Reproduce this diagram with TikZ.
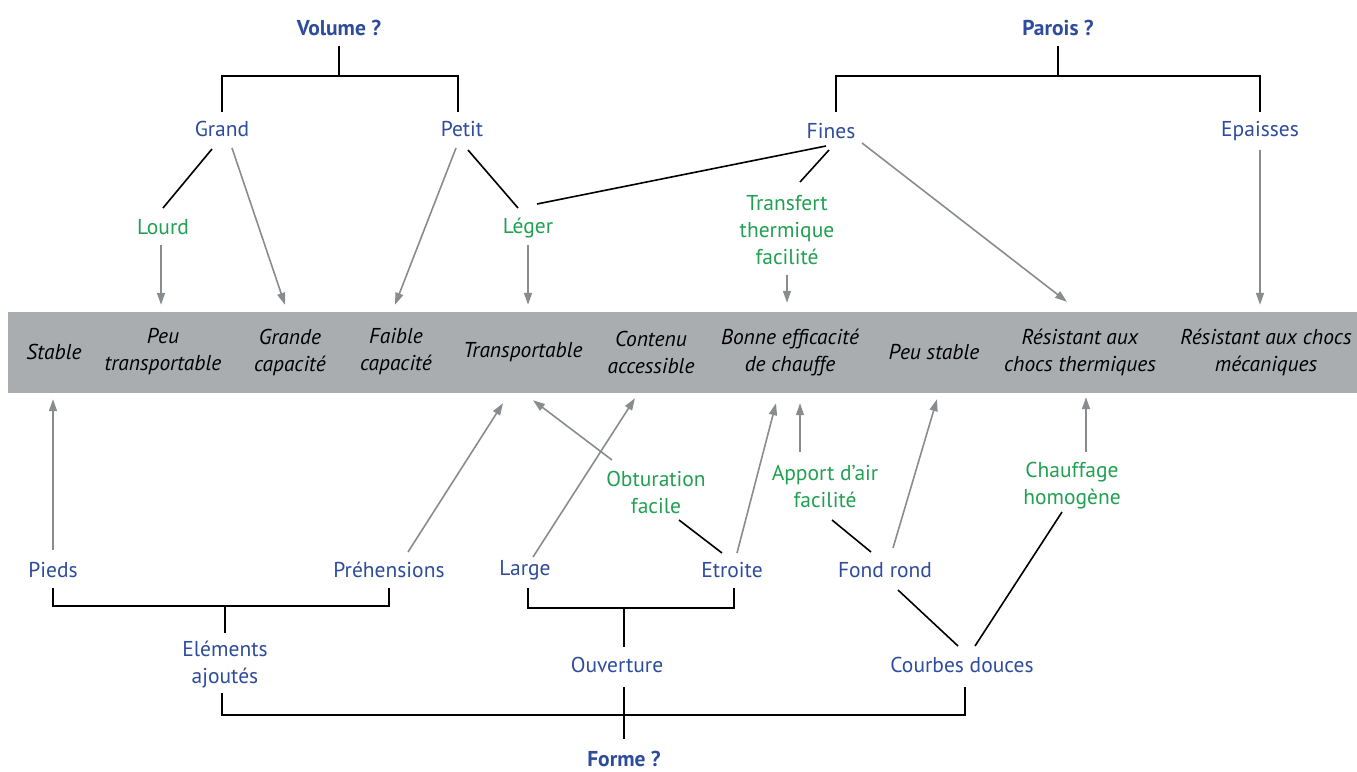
\documentclass[tikz,border=0pt]{standalone}
\usepackage{fontspec}
\setmainfont{PT Sans}
\usetikzlibrary{arrows.meta,calc}

\definecolor{qblue}{RGB}{45,76,156}
\definecolor{qgreen}{RGB}{33,160,82}
\definecolor{bandgray}{RGB}{170,173,176}
\definecolor{arrowgray}{RGB}{137,140,143}

\begin{document}
\begin{tikzpicture}[x=1pt, y=-1pt,
    every node/.style={font=\fontsize{21.5}{27}\selectfont, align=center, inner sep=0pt},
    question/.style={text=qblue, font=\fontsize{21.5}{27}\selectfont\bfseries},
    choice/.style={text=qblue},
    effect/.style={text=qgreen},
    quality/.style={text=black, font=\fontsize{21.5}{27}\selectfont\itshape},
    link/.style={black, line width=1.6pt},
    arr/.style={arrowgray, line width=1.6pt, -{Triangle[length=12pt,width=8pt]}}]

\useasboundingbox (0,0) rectangle (1357,771);

%the grey band with the qualities
\node[fill=bandgray, minimum width=1349pt, minimum height=81pt] (band) at (682.5,352.5) {};

\node[quality] (stable) at (54,352) {Stable};
\node[quality] (peutransp) at (163,352) {Peu\\transportable};
\node[quality] (grandecap) at (290,352) {Grande\\capacité};
\node[quality] (faiblecap) at (396,352) {Faible\\capacité};
\node[quality] (transp) at (523,352) {Transportable};
\node[quality] (contenu) at (651,352) {Contenu\\accessible};
\node[quality] (bonneeff) at (790,352) {Bonne efficacité\\de chauffe};
\node[quality] (peustable) at (934,352) {Peu stable};
\node[quality] (resther) at (1080,352) {Résistant aux\\chocs thermiques};
\node[quality] (resmeca) at (1266,352) {Résistant aux chocs\\mécaniques};

%%volume
\node[question] (vol) at (339,28) {Volume ?};
\node[choice] (grand) at (222,129) {Grand};
\node[choice] (petit) at (462,129) {Petit};
\node[effect] (lourd) at (163,227) {Lourd};
\node[effect] (leger) at (528,228) {Léger};

\draw[link] ($(vol)+(0,18)$) -- ($(vol)+(0,48)$);
\draw[link] ($(grand)+(0,-17)$) |- ($(vol)+(0,48)$) -| ($(petit)+(-4,-17)$);
\draw[link] ($(grand)+(-10,20)$) -- ($(lourd)+(0,-19)$);
\draw[link] ($(petit)+(6,21)$) -- ($(leger)+(-10,-20)$);
\draw[arr] ($(grand)+(10,19)$) -- ($(grandecap |- band.north)+(-5,-7)$);
\draw[arr] ($(petit)+(-6,19)$) -- ($(faiblecap |- band.north)+(-1,-7)$);
\draw[arr] ($(lourd)+(-2,18)$) -- ($(peutransp |- band.north)+(-2,-7)$);
\draw[arr] ($(leger)+(0,17)$) -- ($(transp |- band.north)+(5,-7)$);

%%parois
\node[question] (parois) at (1058,28) {Parois ?};
\node[choice] (fines) at (831,131) {Fines};
\node[choice] (epaisses) at (1260,131) {Epaisses};
\node[effect] (transf) at (787,230) {Transfert\\thermique\\facilité};

\draw[link] ($(parois)+(0,18)$) -- ($(parois)+(0,48)$);
\draw[link] ($(fines)+(5,-19)$) |- ($(parois)+(0,48)$) -| ($(epaisses)+(0,-19)$);
\draw[link] ($(leger)+(9,-24)$) -- ($(fines)+(-5,15)$);
\draw[link] ($(fines)+(-2,19)$) -- ($(transf)+(13,-48)$);
\draw[arr] ($(fines)+(31,12)$) -- ($(resther |- band.north)+(-13,-10)$);
\draw[arr] ($(epaisses)+(0,19)$) -- ($(resmeca |- band.north)+(-6,-7)$);
\draw[arr] ($(transf)+(0,45)$) -- ($(bonneeff |- band.north)+(-3,-9)$);

%%forme
\node[question] (forme) at (624,759) {Forme ?};
\node[choice] (elements) at (225,665) {Eléments\\ajoutés};
\node[choice] (ouverture) at (617,665) {Ouverture};
\node[choice] (courbes) at (962,665) {Courbes douces};
\node[choice] (pieds) at (53,570) {Pieds};
\node[choice] (prehens) at (389,570) {Préhensions};
\node[choice] (large) at (525,570) {Large};
\node[choice] (etroite) at (732,570) {Etroite};
\node[choice] (fondrond) at (885,570) {Fond rond};
\node[effect] (obtur) at (656,492) {Obturation\\facile};
\node[effect] (apport) at (825,486) {Apport d’air\\facilité};
\node[effect] (chauff) at (1072,486) {Chauffage\\homogène};

\draw[link] ($(elements)+(-3,28)$) |- ($(forme)+(0,-44)$) -| ($(courbes)+(3,22)$);
\draw[link] ($(ouverture)+(7,22)$) -- ($(forme)+(0,-20)$);
\draw[link] ($(pieds)+(0,18)$) |- ($(elements)+(0,-59)$) -| ($(prehens)+(0,18)$);
\draw[link] ($(elements)+(0,-59)$) -- ($(elements)+(0,-32)$);
\draw[link] ($(large)+(3,18)$) |- ($(ouverture)+(7,-57)$) -| ($(etroite)+(2,18)$);
\draw[link] ($(ouverture)+(7,-57)$) -- ($(ouverture)+(7,-18)$);
\draw[link] ($(etroite)+(-10,-17)$) -- ($(obtur)+(23,28)$);
\draw[link] ($(fondrond)+(-14,-18)$) -- ($(apport)+(7,34)$);
\draw[link] ($(fondrond)+(13,20)$) -- ($(courbes)+(-4,-19)$);
\draw[link] ($(chauff)+(-10,26)$) -- ($(courbes)+(13,-19)$);

\draw[arr] ($(pieds)+(0,-20)$) -- ($(stable |- band.south)+(-1,6)$);
\draw[arr] ($(prehens)+(19,-18)$) -- ($(transp |- band.south)+(-20,10)$);
\draw[arr] ($(large)+(8,-13)$) -- ($(contenu |- band.south)+(-16,5)$);
\draw[arr] ($(obtur)+(-44,-32)$) -- ($(transp |- band.south)+(10,7)$);
\draw[arr] ($(etroite)+(5,-17)$) -- ($(bonneeff |- band.south)+(-14,10)$);
\draw[arr] ($(apport)+(-25,-34)$) -- ($(bonneeff |- band.south)+(10,10)$);
\draw[arr] ($(fondrond)+(8,-22)$) -- ($(peustable |- band.south)+(3,6)$);
\draw[arr] ($(chauff)+(14,-34)$) -- ($(resther |- band.south)+(6,4)$);

\end{tikzpicture}
\end{document}
